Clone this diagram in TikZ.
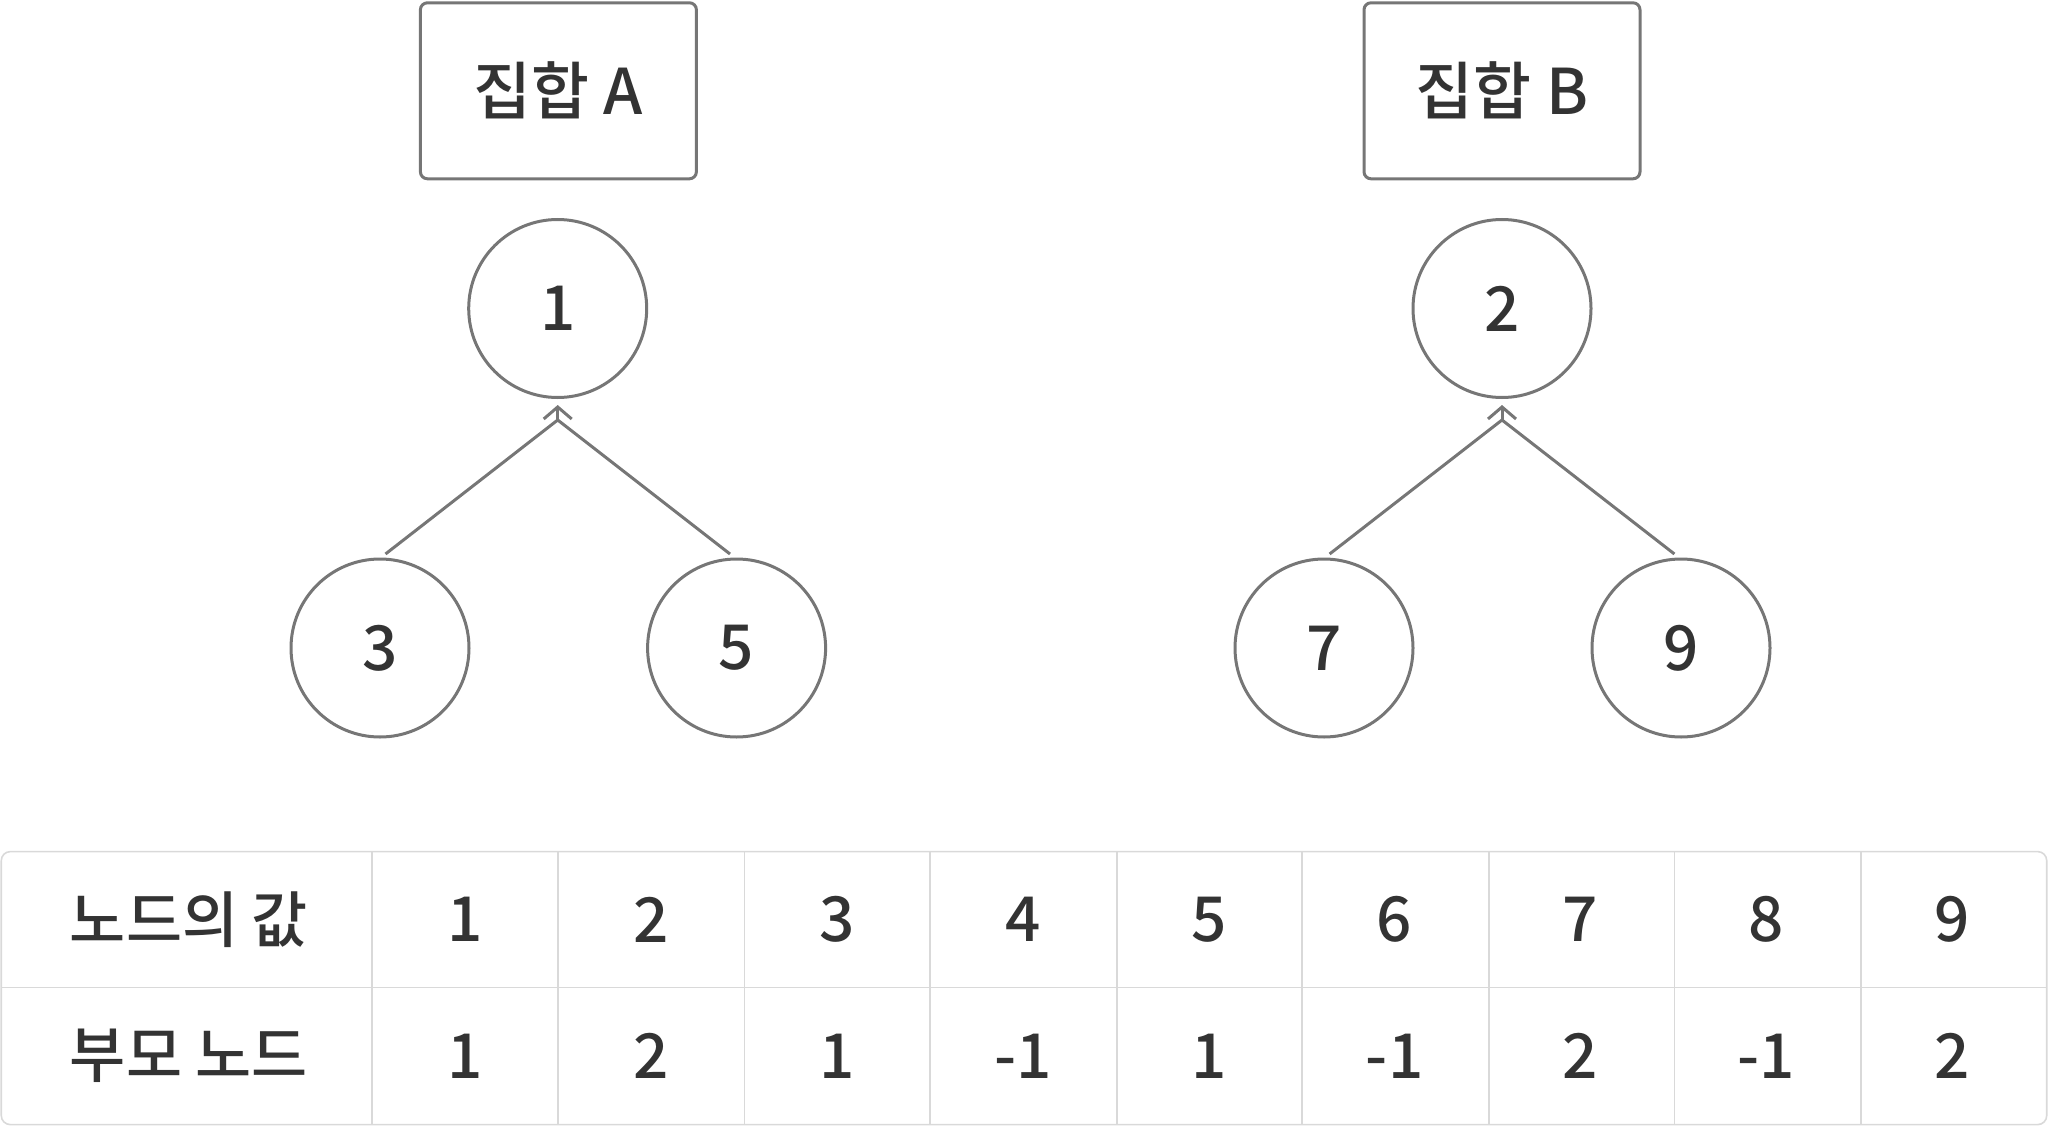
\documentclass[tikz,border=0pt]{standalone}
\usepackage{fontspec}
\setmainfont{Noto Sans CJK KR Medium}
\usetikzlibrary{arrows.meta}
\definecolor{edgegray}{HTML}{767676}
\definecolor{txt}{HTML}{333333}
\definecolor{gridgray}{HTML}{D9D9D9}
\tikzset{
  setbox/.style={draw=edgegray, line width=3pt, rounded corners=7pt, minimum width=276pt, minimum height=176pt, text=txt, font=\fontsize{63}{75}\selectfont, inner sep=0pt},
  tnode/.style={circle, draw=edgegray, line width=3pt, minimum size=178pt, inner sep=0pt, text=txt, font=\fontsize{62}{74}\selectfont},
  edgeline/.style={draw=edgegray, line width=3pt},
  arrowline/.style={draw=edgegray, line width=3pt, -{Straight Barb[length=12pt, width=28pt, line width=3pt]}},
  cell/.style={text=txt, font=\fontsize{62}{74}\selectfont, inner sep=0pt},
  hcell/.style={text=txt, font=\fontsize{61}{73}\selectfont, inner sep=0pt},
  gridline/.style={draw=gridgray, line width=1.6pt}
}
\begin{document}
\begin{tikzpicture}[x=1pt, y=-1pt]
\useasboundingbox (0,0) rectangle (2048,1126);
% set boxes
\node[setbox] (boxA) at (558.4,90.8) {집합 A};
\node[setbox] (boxB) at (1502,90.8) {집합 B};
% tree nodes
\node[tnode] (n1) at (557.7,308.5) {1};
\node[tnode] (n3) at (380,648) {3};
\node[tnode] (n5) at (736.6,648) {5};
\node[tnode] (n2) at (1502,308.5) {2};
\node[tnode] (n7) at (1324,648) {7};
\node[tnode] (n9) at (1681,648) {9};
% connector points
\coordinate (s3) at (385.5,554);
\coordinate (s5) at (730,554);
\coordinate (jA) at (557.7,420);
\coordinate (tA) at (557.7,405);
\coordinate (s7) at (1329.6,554);
\coordinate (s9) at (1674.4,554);
\coordinate (jB) at (1502,420);
\coordinate (tB) at (1502,405);
\draw[edgeline, line join=round] (s3) -- (jA) -- (s5);
\draw[arrowline] (jA) -- (tA);
\draw[edgeline, line join=round] (s7) -- (jB) -- (s9);
\draw[arrowline] (jB) -- (tB);
% table
\draw[gridline, rounded corners=9pt] (1.3,851.6) rectangle (2046.7,1124.6);
\draw[gridline] (1.3,987.4) -- (2046.7,987.4);
\foreach \x in {372.2,557.7,744.5,930,1116.7,1302.2,1489,1674.4,1861.2}
  \draw[gridline] (\x,851.6) -- (\x,1124.6);
\node[hcell] (h1) at (189,919.5) {노드의 값};
\node[hcell] (h2) at (189,1056) {부모 노드};
\foreach \v [count=\i] in {1,...,9} {
  \pgfmathsetmacro{\cx}{372.2+185.9*(\i-0.5)}
  \node[cell] (v\i) at (\cx,919.5) {\v};
}
\foreach \p [count=\i] in {1,2,1,-1,1,-1,2,-1,2} {
  \pgfmathsetmacro{\cx}{372.2+185.9*(\i-0.5)}
  \node[cell] (p\i) at (\cx,1056) {\p};
}
\end{tikzpicture}
\end{document}
